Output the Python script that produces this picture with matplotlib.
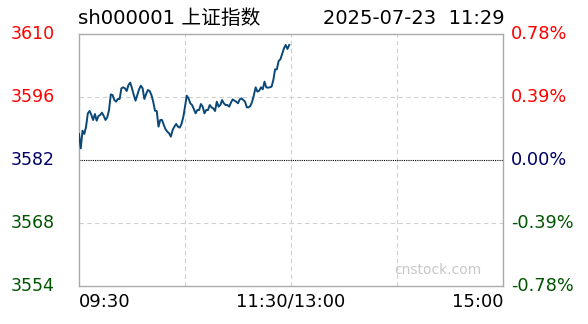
import matplotlib
matplotlib.use("Agg")
import matplotlib.pyplot as plt

title_left = "sh000001 上证指数"
title_right = "2025-07-23  11:29"
prev_close = 3582
price_ticks = [3554, 3568, 3582, 3596, 3610]
pct_labels = ["-0.78%", "-0.39%", "0.00%", "0.39%", "0.78%"]
time_labels = ["09:30", "11:30/13:00", "15:00"]
total_minutes = 240

prices = [
    3587.78, 3584.59, 3588.52, 3587.78, 3589.41, 3592.37, 3592.89, 3592.00, 3590.89, 3592.22,
    3590.74, 3591.78, 3592.00, 3592.52, 3591.78, 3590.89, 3591.48, 3593.11, 3596.59, 3596.44,
    3595.33, 3594.96, 3595.56, 3595.56, 3597.93, 3598.15, 3597.93, 3597.33, 3598.67, 3599.19,
    3597.93, 3596.44, 3595.19, 3596.44, 3597.70, 3598.52, 3597.93, 3595.56, 3596.67, 3597.56,
    3597.33, 3596.44, 3594.96, 3592.96, 3592.89, 3589.41, 3590.89, 3590.89, 3589.78, 3588.81,
    3588.30, 3587.93, 3587.19, 3588.67, 3589.41, 3590.00, 3589.41, 3589.19, 3590.00, 3591.48,
    3593.85, 3596.30, 3595.70, 3594.59, 3594.22, 3593.33, 3592.37, 3593.11, 3593.11, 3594.44,
    3593.85, 3592.37, 3593.11, 3593.11, 3594.22, 3593.70, 3593.48, 3592.89, 3594.96, 3593.85,
    3594.22, 3595.33, 3594.59, 3594.22, 3594.22, 3593.85, 3594.74, 3595.48, 3595.19, 3594.96,
    3594.59, 3595.48, 3595.70, 3595.33, 3594.96, 3593.70, 3593.70, 3594.00, 3594.96, 3596.44,
    3598.15, 3597.19, 3597.41, 3598.15, 3597.70, 3599.41, 3598.15, 3598.07, 3598.15, 3598.30,
    3599.78, 3602.15, 3602.15, 3604.00, 3604.37, 3605.56, 3606.81, 3607.56, 3606.67, 3607.56,
]

RED = "#ff0000"
NAVY = "#000066"
GREEN = "#005500"
FONT = ["DejaVu Sans", "Noto Sans CJK SC"]
plt.rcParams["font.family"] = FONT

W, H = 588, 324
fig = plt.figure(figsize=(W / 100, H / 100), dpi=100)
ax = fig.add_axes([79 / W, 38 / H, 424 / W, 252 / H])

ax.set_xlim(0, total_minutes)
ax.set_ylim(price_ticks[0], price_ticks[-1])

for x in (60, 120, 180):
    ax.axvline(x, color="#d0d0d0", lw=0.8, ls=(0, (4, 3)), zorder=1)
for y in (3568, 3596):
    ax.axhline(y, color="#d0d0d0", lw=0.8, ls=(0, (4, 3)), zorder=1)
ax.axhline(prev_close, color="black", lw=0.8, ls=(0, (1, 1)), zorder=2)

ax.plot(range(len(prices)), prices, color="#0a4878", lw=1.4, zorder=3)

for s in ax.spines.values():
    s.set_color("#aaaaaa")
    s.set_linewidth(1.0)
ax.set_xticks([])
ax.set_yticks([])

def col(v):
    if v > prev_close:
        return RED
    if v < prev_close:
        return GREEN
    return NAVY

ty = ax.get_yaxis_transform()
for v, p in zip(price_ticks, pct_labels):
    ax.text(-68 / 424, v, str(v), transform=ty,
            ha="left", va="center", fontsize=12.5, color=col(v))
    ax.text(1 + 8 / 424, v, p, transform=ty,
            ha="left", va="center", fontsize=12.8, color=col(v))

tx = ax.get_xaxis_transform()
ax.text(0, -16 / 252, time_labels[0], transform=tx, ha="left", va="center", fontsize=13)
ax.text(120, -16 / 252, time_labels[1], transform=tx, ha="center", va="center", fontsize=13)
ax.text(240, -16 / 252, time_labels[2], transform=tx, ha="right", va="center", fontsize=13)

fig.text(78 / W, 1 - 18 / H, title_left, ha="left", va="center", fontsize=14.2)
fig.text(505 / W, 1 - 18 / H, title_right, ha="right", va="center", fontsize=14)

fig.text(438 / W, 1 - 270 / H, "cnstock.com", ha="center", va="center", fontsize=10, color="#c8c8c8")

fig.savefig("out.png", dpi=100)
